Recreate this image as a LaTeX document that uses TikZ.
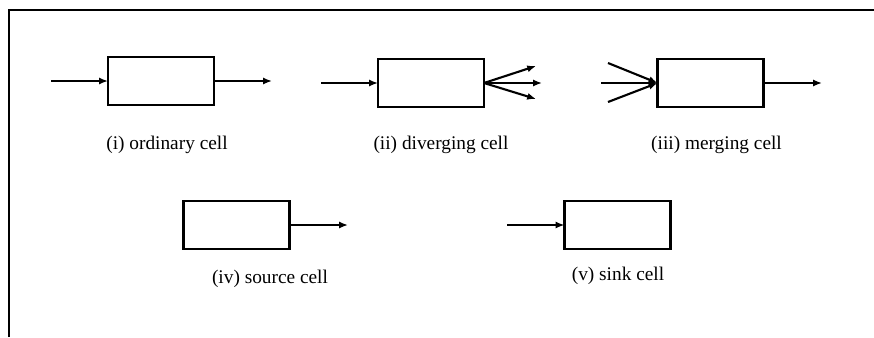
\documentclass[tikz,border=0pt]{standalone}
\usepackage{fontspec}
\setmainfont{Liberation Serif}
\usetikzlibrary{arrows.meta}
\begin{document}
\begin{tikzpicture}[x=0.03cm,y=-0.03cm,inner sep=0pt,outer sep=0pt,line width=1.8pt,
>={Latex[length=7.5pt,width=6pt]},
cellblock/.style={draw,rectangle,minimum width=3.18cm,minimum height=1.44cm,line width=1.8pt},
caption/.style={font=\fontsize{16.5}{19}\selectfont}]
\useasboundingbox (0,0) rectangle (874,337);
% frame
\draw (9,337) -- (9,10) -- (874,10);
% top row
\draw (161,81) node[cellblock] (ord) {};
\draw (431,83) node[cellblock] (div) {};
\draw (710.5,83) node[cellblock] (mrg) {};
\coordinate (ordin) at (51,81);
\coordinate (ordout) at (272,81);
\coordinate (divin) at (321,83);
\coordinate (divup) at (536,66);
\coordinate (divmid) at (542,83);
\coordinate (divdn) at (536,99);
\coordinate (mrgup) at (608,63);
\coordinate (mrgmid) at (601,83);
\coordinate (mrgdn) at (608,102);
\coordinate (mrgout) at (822,83);
\draw[->] (ordin) -- (ord.west);
\draw[->] (ord.east) -- (ordout);
\draw[->] (divin) -- (div.west);
\draw[->] (div.east) -- (divup);
\draw[->] (div.east) -- (divmid);
\draw[->] (div.east) -- (divdn);
\draw[->] (mrgup) -- (mrg.west);
\draw[->] (mrgmid) -- (mrg.west);
\draw[->] (mrgdn) -- (mrg.west);
\draw[->] (mrg.east) -- (mrgout);
\node[caption] (ordlbl) at (167,145) {(i) ordinary cell};
\node[caption] (divlbl) at (441,145) {(ii) diverging cell};
\node[caption] (mrglbl) at (716.5,145) {(iii) merging cell};
% bottom row
\draw (236.5,225) node[cellblock] (src) {};
\draw (617.5,225) node[cellblock] (snk) {};
\coordinate (srcout) at (348,225);
\coordinate (snkin) at (507,225);
\draw[->] (src.east) -- (srcout);
\draw[->] (snkin) -- (snk.west);
\node[caption] (srclbl) at (270,279) {(iv) source cell};
\node[caption] (snklbl) at (618,276) {(v) sink cell};

\end{tikzpicture}
\end{document}
